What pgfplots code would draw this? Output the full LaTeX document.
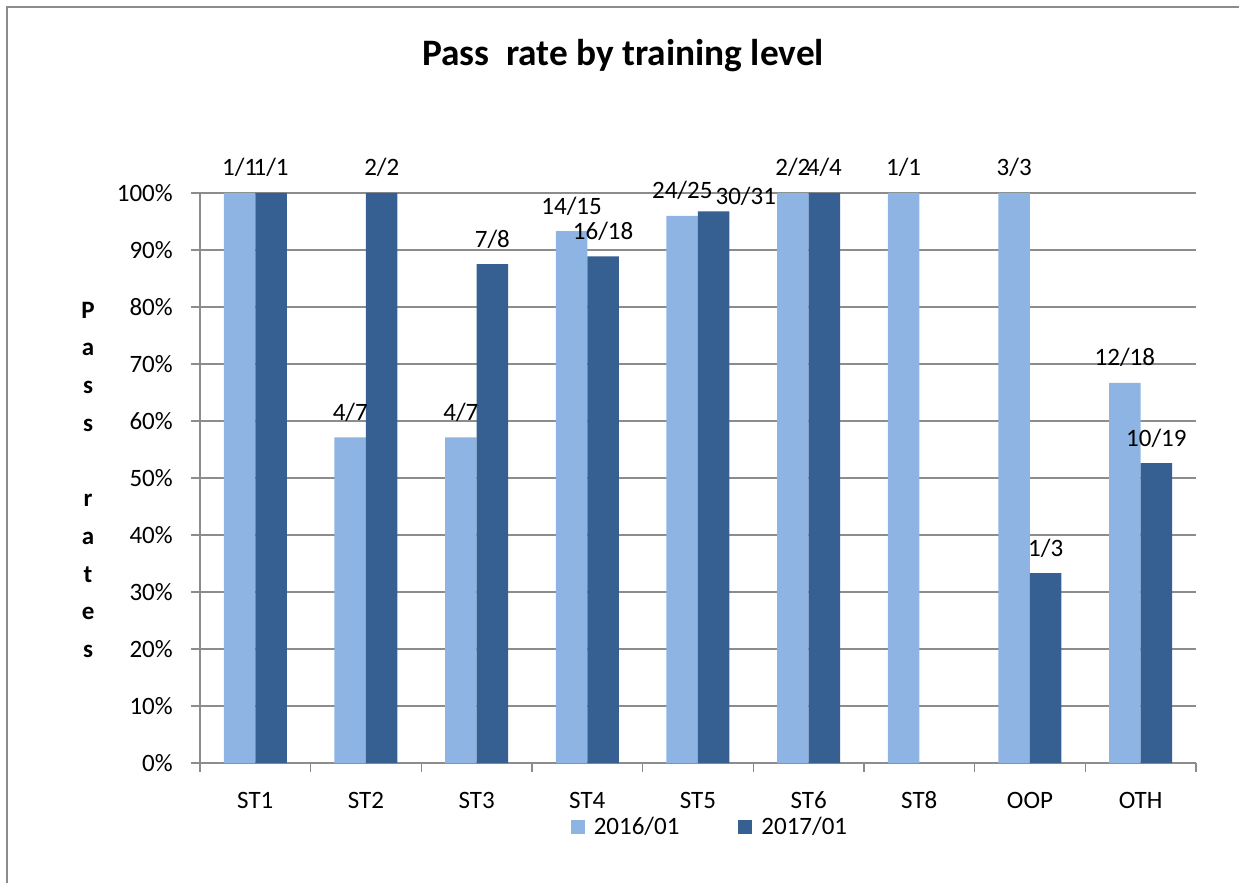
\documentclass[border=0pt]{standalone}
\usepackage{pgfplots}
\pgfplotsset{compat=1.18}
\usepackage{pgfplotstable}
\usepackage{fontspec}
\setmainfont{Carlito}
\definecolor{lightbar}{HTML}{8EB4E3}
\definecolor{darkbar}{HTML}{376092}
\definecolor{gridc}{HTML}{8C8C8C}
\newcommand\tickfont{\fontsize{18.75}{22}\selectfont}

\pgfplotstableread{
x y label dx dy
0 100 1/1 0 0
1 57.14 4/7 0 0
2 57.14 4/7 0 0
3 93.33 14/15 0 0
4 96.00 24/25 0 0
5 100 2/2 0 0
6 100 1/1 0 0
7 100 3/3 0 0
8 66.67 12/18 0 0
}\lighttab
\pgfplotstableread{
x y label dx dy
0 100 1/1 0 0
1 100 2/2 0 0
2 87.5 7/8 0 0
3 88.89 16/18 0 0
4 96.77 30/31 24 -7.5
5 100 4/4 0 0
7 33.33 1/3 0 0
8 52.63 10/19 0 0
}\darktab

\begin{document}
\begin{tikzpicture}
\useasboundingbox (0,0) rectangle (929.25pt,662.25pt);
\draw[gridc, line width=1.5pt] (5.25pt,0) -- (5.25pt,657pt) -- (929.25pt,657pt);
\begin{axis}[
  at={(150pt,90pt)}, anchor=south west,
  scale only axis, width=747pt, height=427.5pt,
  xmin=-0.5, xmax=8.5, ymin=0, ymax=100,
  ybar=0pt, bar width=23.625pt,
  axis x line*=bottom, axis y line*=left,
  axis line style={gridc, line width=1pt, -},
  ymajorgrids, grid style={gridc, line width=1pt},
  tick align=outside, major tick length=6.75pt,
  tick style={gridc, line width=1pt},
  ytick={0,10,...,100},
  yticklabels={0\%,10\%,20\%,30\%,40\%,50\%,60\%,70\%,80\%,90\%,100\%},
  y tick label style={font=\tickfont, anchor=east, inner sep=0pt, xshift=-13.5pt},
  xtick={-0.5,0.5,...,8.5}, xticklabels={},
  extra x ticks={0,1,...,8},
  extra x tick labels={ST1,ST2,ST3,ST4,ST5,ST6,ST8,OOP,OTH},
  extra x tick style={grid=none, tick style={draw=none}},
  x tick label style={font=\tickfont, anchor=base, inner sep=0pt, yshift=-27pt},
  title={Pass\ \ rate by training level},
  title style={at={(axis description cs:0.4247,1.209)}, anchor=base, inner sep=0pt, font=\bfseries\fontsize{28}{31}\selectfont},
  ylabel={\begin{tabular}{@{}c@{}}P\\a\\s\\s\\ \\r\\a\\t\\e\\s\end{tabular}},
  ylabel style={rotate=-90, at={(axis description cs:-0.1124,0.496)}, anchor=center, inner sep=0pt, font=\bfseries\fontsize{18.75}{28.3}\selectfont},
  legend style={at={(axis description cs:0.511,-0.09)}, anchor=north, draw=none, fill=none,
    legend columns=2, font=\tickfont, nodes={inner sep=0pt},
    /tikz/every odd column/.append style={column sep=6.75pt},
    /tikz/every even column/.append style={column sep=44.25pt}},
  legend image code/.code={\fill[#1] (0pt,-5.25pt) rectangle (10.5pt,5.25pt);},
  nodes near coords,
  point meta=explicit symbolic,
  nodes near coords style={font=\tickfont, text=black, anchor=base, inner sep=0pt, yshift=12.75pt},
]
\addplot[fill=lightbar, draw=none] table[x=x, y=y, meta=label] {\lighttab};
\addplot[fill=darkbar, draw=none,
  visualization depends on={\thisrow{dx}\as\dx},
  visualization depends on={\thisrow{dy}\as\dy},
  nodes near coords style={xshift=\dx pt, yshift=\dy pt}] table[x=x, y=y, meta=label] {\darktab};
\legend{2016/01,2017/01}
\end{axis}
\end{tikzpicture}
\end{document}
